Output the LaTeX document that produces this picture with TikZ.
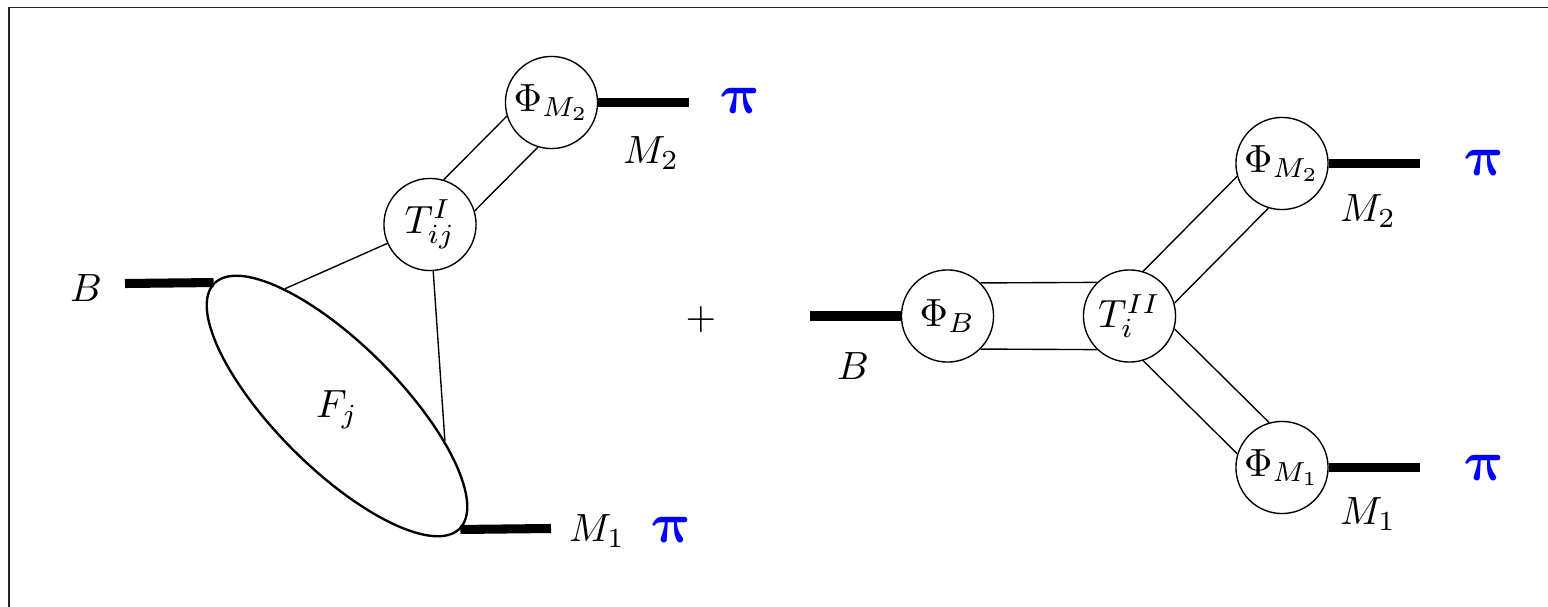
\documentclass[tikz,border=0pt]{standalone}
\usepackage{amsmath,amssymb}
\usepackage{xcolor}
\usepackage{tikz}
\usetikzlibrary{shapes.geometric, calc}

\begin{document}
\begin{tikzpicture}[
    x=0.254pt, y=-0.254pt,
    blob/.style={circle, draw, line width=0.35pt, fill=white, inner sep=0pt, minimum size=23.4pt},
    formfactor/.style={ellipse, draw, semithick, rotate=-45, minimum width=88.1pt, minimum height=31.5pt, inner sep=0pt},
    leg/.style={line width=2.3pt},
    wire/.style={line width=0.35pt},
    pion/.style={text=blue, font=\fontsize{13.5}{16}\selectfont, xslant=-0.2, transform shape}
]
\useasboundingbox (0,0) rectangle (1548,607);
\draw[line width=0.45pt, black!85] (9,607) -- (9,7.5) -- (1548,7.5);

\node[formfactor] (F) at (337,406) {};
\node (Fj) at (337,410) {$F_j$};
\node[blob] (T1) at (430,224.5) {$T^{I}_{ij}$};
\node[blob] (P2) at (551.5,102.5) {$\Phi_{M_2}$};

\coordinate (bL) at (125,283.5);
\coordinate (m1L) at (551,528.5);
\coordinate (m2L) at (689,102.5);

\draw[leg] (bL) -- (F.west);
\draw[leg] (F.east) -- (m1L);
\draw[leg] (P2.east) -- (m2L);
\draw[wire] (T1) -- (F.159);
\draw[wire] (T1) -- (F.27);
\draw[wire] (T1.73) -- (P2.197);
\draw[wire] (T1.17) -- (P2.253);

\node (B1) at (86,288) {$B$};
\node (M1a) at (597,531) {$M_1$};
\node (M2a) at (651,153) {$M_2$};
\node[pion] (pi1) at (672,530) {$\boldsymbol{\pi}$};
\node[pion] (pi2) at (741,101) {$\boldsymbol{\pi}$};

\node (plus) at (701,320) {$+$};

\node[blob] (PB) at (947.5,316) {$\Phi_B$};
\node[blob] (T2) at (1129.5,316) {$T^{II}_{i}$};
\node[blob] (Q2) at (1282,163.5) {$\Phi_{M_2}$};
\node[blob] (Q1) at (1282,467.5) {$\Phi_{M_1}$};

\coordinate (bR) at (810,316);
\coordinate (m2R) at (1420,163.5);
\coordinate (m1R) at (1420,467.5);

\draw[leg] (bR) -- (PB.west);
\draw[leg] (Q2.east) -- (m2R);
\draw[leg] (Q1.east) -- (m1R);
\draw[wire] (PB.45.6) -- (T2.134.4);
\draw[wire] (PB.-45.6) -- (T2.-134.4);
\draw[wire] (T2.73.5) -- (Q2.196.5);
\draw[wire] (T2.16.5) -- (Q2.253.5);
\draw[wire] (T2.-16.5) -- (Q1.106.5);
\draw[wire] (T2.-73.5) -- (Q1.163.5);

\node (B2) at (853,366) {$B$};
\node (M2b) at (1368,211) {$M_2$};
\node (M1b) at (1368,514) {$M_1$};
\node[pion] (pi3) at (1485,163) {$\boldsymbol{\pi}$};
\node[pion] (pi4) at (1485,468) {$\boldsymbol{\pi}$};
\end{tikzpicture}
\end{document}
